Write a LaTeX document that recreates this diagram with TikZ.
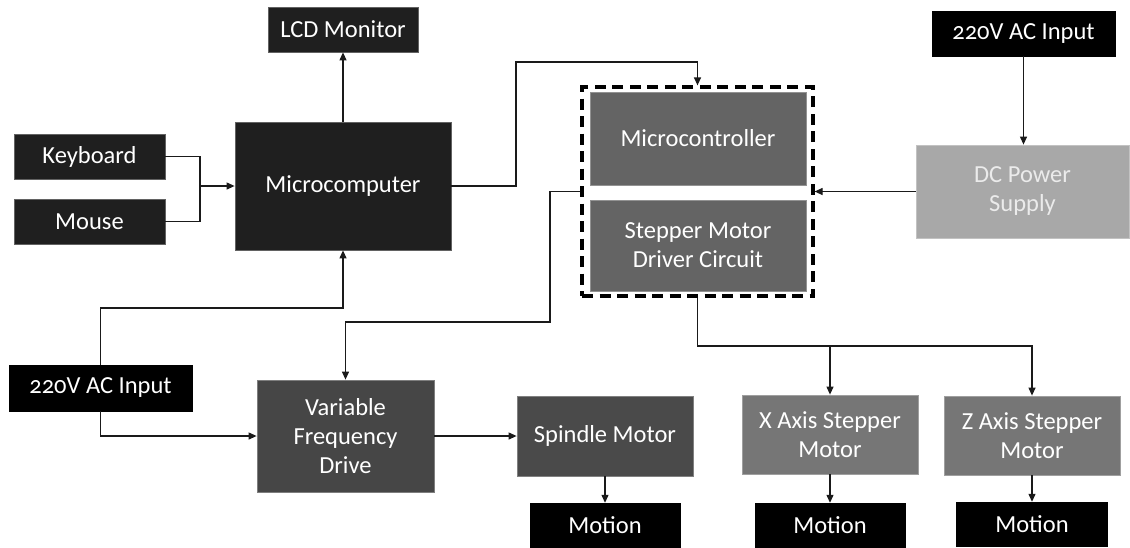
\documentclass[tikz,border=0pt]{standalone}
\usepackage{fontspec}
\setmainfont{Carlito}[Numbers=OldStyle]
\usetikzlibrary{arrows.meta}
\definecolor{cdark}{HTML}{1F1F1F}
\definecolor{cmid}{HTML}{646464}
\definecolor{cvfd}{HTML}{464646}
\definecolor{cspin}{HTML}{4A4A4A}
\definecolor{caxis}{HTML}{767676}
\definecolor{cdc}{HTML}{A8A8A8}
\definecolor{cline}{HTML}{1A1A1A}
\tikzset{
  box/.style={rectangle, inner sep=0pt, align=center, text=white,
    font=\fontsize{24.5}{29}\selectfont, draw=#1!70!white, line width=0.8pt, fill=#1},
  blackbox/.style={rectangle, inner sep=0pt, align=center, text=white,
    font=\fontsize{24.5}{29}\selectfont, fill=black, draw=black},
  conn/.style={draw=cline, line width=1.2pt},
  arr/.style={conn, -{Triangle[length=8pt,width=7pt]}},
  grpbox/.style={rectangle, draw=black, line width=3.2pt, dash pattern=on 11pt off 6.5pt, inner sep=0pt}
}
\begin{document}
\begin{tikzpicture}[x=1pt,y=-1pt]
\useasboundingbox[fill=white] (0,0) rectangle (1130,547);
% nodes
\node[box=cdark, minimum width=150pt, minimum height=45pt] (lcd) at (343,29.5) {LCD Monitor};
\node[box=cdark, minimum width=151pt, minimum height=45pt] (kbd) at (89.5,156.5) {Keyboard};
\node[box=cdark, minimum width=151pt, minimum height=45pt] (mouse) at (89.5,221.5) {Mouse};
\node[box=cdark, minimum width=216pt, minimum height=128pt] (mc) at (343,186) {Microcomputer};
\node[grpbox, minimum width=231pt, minimum height=209pt] (grp) at (697.5,191.5) {};
\node[box=cmid, minimum width=216pt, minimum height=93pt] (uctrl) at (698,138.5) {Microcontroller};
\node[box=cmid, minimum width=216pt, minimum height=91pt] (smd) at (698,245.5) {Stepper Motor\\Driver Circuit};
\node[blackbox, minimum width=183pt, minimum height=45pt] (ac1) at (1023.5,33.5) {220V AC Input};
\node[box=cdc, minimum width=213pt, minimum height=93pt, text=white!92!black] (dc) at (1022.5,191.5) {DC Power\\Supply};
\node[blackbox, minimum width=183pt, minimum height=46pt] (ac2) at (100.5,388) {220V AC Input};
\node[box=cvfd, minimum width=177pt, minimum height=112pt] (vfd) at (345.5,436) {Variable\\Frequency\\Drive};
\node[box=cspin, minimum width=176pt, minimum height=80pt] (sp) at (605,436) {Spindle Motor};
\node[box=caxis, minimum width=176pt, minimum height=79pt] (xa) at (830,434.5) {X Axis Stepper\\Motor};
\node[box=caxis, minimum width=176pt, minimum height=79pt] (za) at (1032,435.5) {Z Axis Stepper\\Motor};
\node[blackbox, minimum width=150pt, minimum height=44pt] (m1) at (605,525) {Motion};
\node[blackbox, minimum width=150pt, minimum height=44pt] (m2) at (830,525) {Motion};
\node[blackbox, minimum width=151pt, minimum height=44pt] (m3) at (1032,524) {Motion};
% helper coordinates
\coordinate (j) at (200,186);
\coordinate (c1) at (516,62);
\coordinate (c2) at (550,322);
\coordinate (c3) at (100.5,308);
\coordinate (c4) at (697.5,346);
% connectors
\draw[arr] (mc.north) -- (lcd.south);
\draw[conn] (kbd.east) -| (j) |- (mouse.east);
\draw[arr] (j) -- (mc.west);
\draw[arr] (mc.east) -| (c1) -| (grp.north);
\draw[arr] (dc.west) -- (grp.east);
\draw[arr] (ac1.south) -- (ac1.south |- dc.north);
\draw[arr] (grp.west) -| (c2) -| (vfd.north);
\draw[arr] (ac2.north) -- (c3) -| (mc.south);
\draw[arr] (ac2.south) |- (vfd.west);
\draw[arr] (vfd.east) -- (sp.west);
\draw[arr] (sp.south) -- (m1.north);
\draw[arr] (grp.south) -- (c4) -| (za.north);
\draw[arr] (c4) -| (xa.north);
\draw[arr] (xa.south) -- (m2.north);
\draw[arr] (za.south) -- (m3.north);
\end{tikzpicture}
\end{document}
